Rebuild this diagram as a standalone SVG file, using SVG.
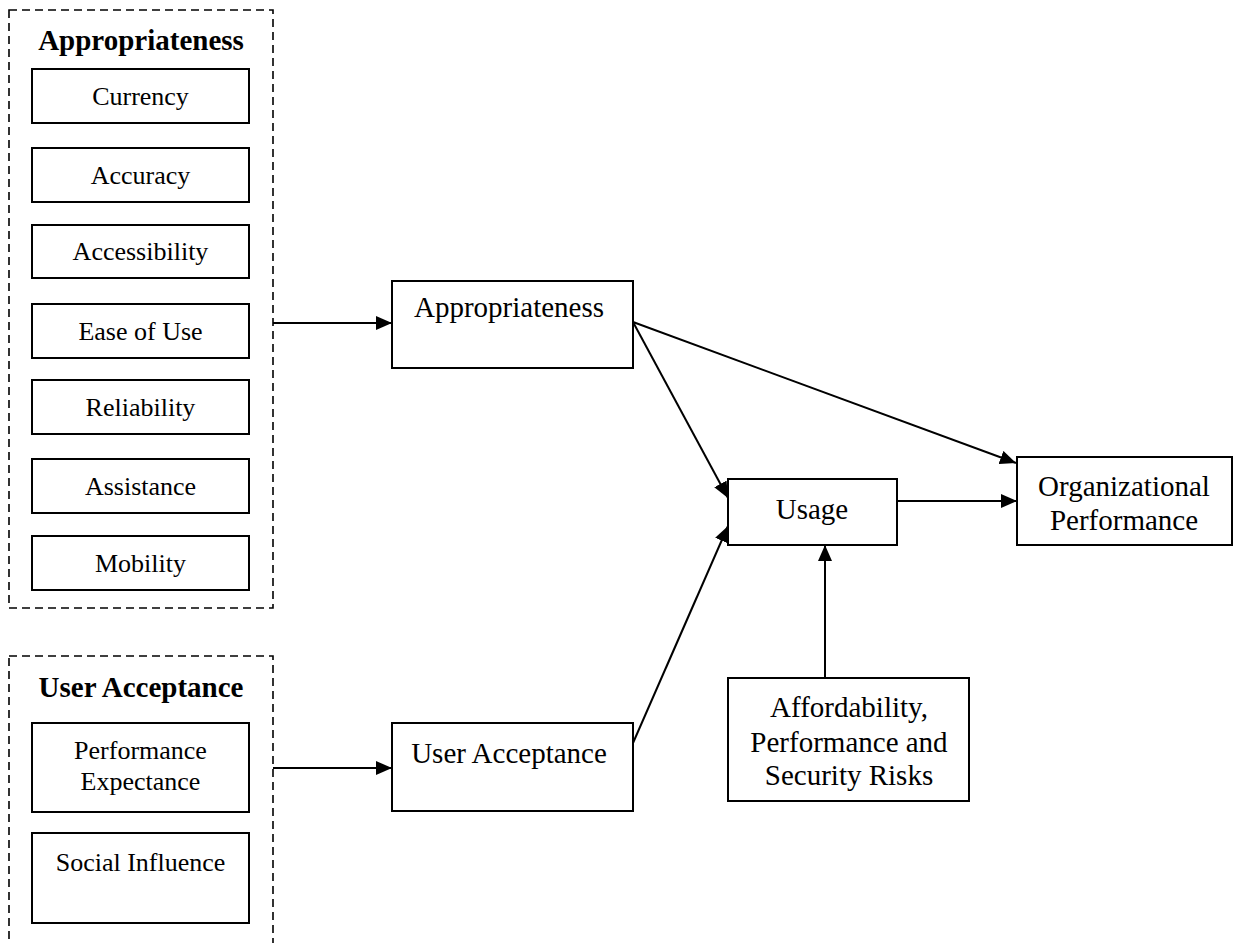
<svg xmlns="http://www.w3.org/2000/svg" width="1239" height="943" viewBox="0 0 1239 943">
<defs>
<marker id="arr" viewBox="0 0 16 14" refX="16" refY="7" markerWidth="16" markerHeight="14" markerUnits="userSpaceOnUse" orient="auto">
<path d="M0,0 L16,7 L0,14 Z" fill="#000"/>
</marker>
</defs>
<style>
.grp{fill:none;stroke:#000;stroke-width:1.6;stroke-dasharray:8 5}
.box{fill:#fff;stroke:#000;stroke-width:2}
.t{font-family:"Liberation Serif","Times New Roman",serif;fill:#000;text-anchor:middle}
.s{font-size:26px}
.m{font-size:29px}
.h{font-size:29px;font-weight:bold}
.c{fill:none;stroke:#000;stroke-width:2;marker-end:url(#arr)}
</style>
<rect width="1239" height="943" fill="#fff"/>
<g id="group-appropriateness">
<rect class="grp" x="9" y="10" width="264" height="598"/>
<text class="t h" x="141" y="50">Appropriateness</text>
</g>
<g id="currency"><rect class="box" x="32" y="69" width="217" height="54"/><text class="t s" x="140.5" y="105">Currency</text></g>
<g id="accuracy"><rect class="box" x="32" y="148" width="217" height="54"/><text class="t s" x="140.5" y="184">Accuracy</text></g>
<g id="accessibility"><rect class="box" x="32" y="225" width="217" height="53"/><text class="t s" x="140.5" y="260">Accessibility</text></g>
<g id="ease-of-use"><rect class="box" x="32" y="304" width="217" height="54"/><text class="t s" x="140.5" y="340">Ease of Use</text></g>
<g id="reliability"><rect class="box" x="32" y="380" width="217" height="54"/><text class="t s" x="140.5" y="416">Reliability</text></g>
<g id="assistance"><rect class="box" x="32" y="459" width="217" height="54"/><text class="t s" x="140.5" y="495">Assistance</text></g>
<g id="mobility"><rect class="box" x="32" y="536" width="217" height="54"/><text class="t s" x="140.5" y="572">Mobility</text></g>
<g id="group-user-acceptance">
<rect class="grp" x="9" y="656" width="264" height="300"/>
<text class="t h" x="141" y="697">User Acceptance</text>
</g>
<g id="performance-expectance"><rect class="box" x="32" y="723" width="217" height="89"/><text class="t s" x="140.5" y="759">Performance</text><text class="t s" x="140.5" y="790">Expectance</text></g>
<g id="social-influence"><rect class="box" x="32" y="833" width="217" height="90"/><text class="t s" x="140.5" y="871">Social Influence</text></g>
<g id="appropriateness"><rect class="box" x="392" y="281" width="241" height="87"/><text class="t m" x="509" y="317">Appropriateness</text></g>
<g id="user-acceptance"><rect class="box" x="392" y="723" width="241" height="88"/><text class="t m" x="509" y="763">User Acceptance</text></g>
<g id="usage"><rect class="box" x="728" y="479" width="169" height="66"/><text class="t m" x="812" y="519">Usage</text></g>
<g id="organizational-performance"><rect class="box" x="1017" y="457" width="215" height="88"/><text class="t m" x="1124" y="496">Organizational</text><text class="t m" x="1124" y="530">Performance</text></g>
<g id="risks"><rect class="box" x="728" y="678" width="241" height="123"/><text class="t m" x="849" y="717">Affordability,</text><text class="t m" x="849" y="752">Performance and</text><text class="t m" x="849" y="785">Security Risks</text></g>
<g id="connectors">
<line class="c" x1="273" y1="323" x2="392" y2="323"/>
<line class="c" x1="273" y1="768" x2="392" y2="768"/>
<line class="c" x1="633" y1="322" x2="728" y2="498"/>
<line class="c" x1="633" y1="322" x2="1016" y2="463"/>
<line class="c" x1="633" y1="743" x2="728" y2="526"/>
<line class="c" x1="897" y1="501" x2="1017" y2="501"/>
<line class="c" x1="825" y1="678" x2="825" y2="545"/>
</g>
</svg>
